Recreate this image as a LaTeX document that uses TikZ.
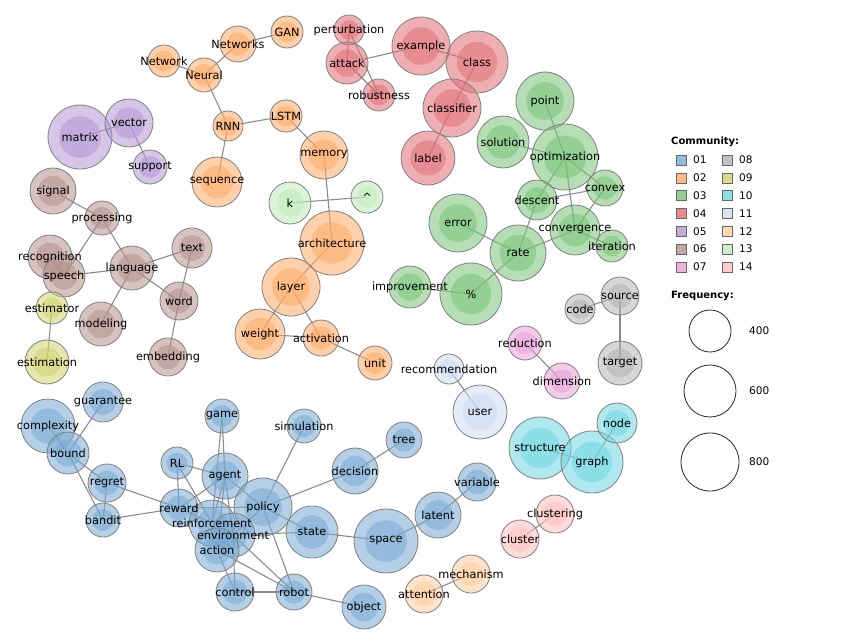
\documentclass[tikz,border=0pt]{standalone}
\usepackage{fontspec}
\setmainfont{DejaVu Sans}
\pgfdeclarelayer{background}
\pgfdeclarelayer{foreground}
\pgfsetlayers{background,main,foreground}

% community colours
\definecolor{c01}{RGB}{120,170,210}
\definecolor{c02}{RGB}{255,170,100}
\definecolor{c03}{RGB}{120,195,120}
\definecolor{c04}{RGB}{225,110,115}
\definecolor{c05}{RGB}{180,150,210}
\definecolor{c06}{RGB}{180,145,140}
\definecolor{c07}{RGB}{232,160,215}
\definecolor{c08}{RGB}{180,180,180}
\definecolor{c09}{RGB}{210,210,110}
\definecolor{c10}{RGB}{110,215,225}
\definecolor{c11}{RGB}{205,220,240}
\definecolor{c12}{RGB}{255,205,160}
\definecolor{c13}{RGB}{190,235,185}
\definecolor{c14}{RGB}{255,190,190}

\begin{document}
\begin{tikzpicture}[x=1pt, y=-1pt,
  ring/.style={circle, draw=black!50, line width=0.8pt, fill opacity=0.55, inner sep=0pt},
  core/.style={fill opacity=0.55},
  edge/.style={draw=black!45, line width=1.1pt},
  lbl/.style={font=\fontsize{11.3}{13}\selectfont, inner sep=0pt},
  legend/.style={font=\fontsize{10.5}{12}\selectfont, inner sep=0pt, anchor=west},
  swatch/.style={draw=black!60, line width=0.6pt, minimum size=10pt, inner sep=0pt, fill opacity=0.8}]
\useasboundingbox (0,0) rectangle (853,640);

% terms: name/x/y/radius/community/text
\foreach \n/\x/\y/\r/\c/\t in {
  GAN/287/32/16/c02/GAN, Networks/238/44/18/c02/Networks, Network/164/61/16/c02/Network,
  Neural/204/75/17/c02/Neural, RNN/228/126/15/c02/RNN, LSTM/286/116/16/c02/LSTM,
  sequence/217/182/25/c02/sequence, memory/324/155/24/c02/memory,
  architecture/332/243/32/c02/architecture, layer/291/287/29/c02/layer,
  weight/260/334/25/c02/weight, activation/321/338/18/c02/activation, unit/375/363/17/c02/unit,
  k/290/203/21/c13/k, hat/367/197/16/c13/\textasciicircum,
  matrix/80/137/32/c05/matrix, vector/129/123/24/c05/vector, support/150/167/17/c05/support,
  signal/53/191/23/c06/signal, processing/102/218/17/c06/processing,
  recognition/50/257/22/c06/recognition, speech/64/276/21/c06/speech,
  language/132/268/22/c06/language, text/192/248/20/c06/text, word/179/301/19/c06/word,
  modeling/101/324/22/c06/modeling, embedding/168/357/19/c06/embedding,
  estimator/52/308/16/c09/estimator, estimation/47/362/22/c09/estimation,
  perturbation/349/30/15/c04/perturbation, attack/347/63/21/c04/attack,
  robustness/379/95/16/c04/robustness, example/421/46/29/c04/example,
  class/477/62/31/c04/class, classifier/452/108/29/c04/classifier, label/428/158/27/c04/label,
  point/545/101/29/c03/point, solution/503/142/26/c03/solution,
  optimization/565/157/33/c03/optimization, convex/605/188/18/c03/convex,
  descent/537/200/20/c03/descent, convergence/575/230/25/c03/convergence,
  iteration/612/246/16/c03/iteration, error/458/223/29/c03/error, rate/518/253/28/c03/rate,
  improvement/410/287/21/c03/improvement, pct/471/294/31/c03/\%,
  code/580/309/15/c08/code, source/620/296/19/c08/source, target/620/363/22/c08/target,
  reduction/525/343/17/c07/reduction, dimension/562/381/18/c07/dimension,
  recommendation/449/369/15/c11/recommendation, user/480/412/27/c11/user,
  structure/540/448/31/c10/structure, graph/592/462/31/c10/graph, node/617/423/20/c10/node,
  clustering/555/514/19/c14/clustering, cluster/520/539/19/c14/cluster,
  mechanism/471/574/19/c12/mechanism, attention/424/594/19/c12/attention,
  guarantee/103/402/20/c01/guarantee, complexity/48/426/27/c01/complexity,
  bound/68/453/21/c01/bound, regret/107/483/19/c01/regret, bandit/103/520/17/c01/bandit,
  game/222/416/17/c01/game, RL/177/463/16/c01/RL, agent/225/476/23/c01/agent,
  reward/179/508/19/c01/reward, policy/263/507/29/c01/policy,
  simulation/304/426/17/c01/simulation, tree/404/440/18/c01/tree, decision/355/471/23/c01/decision,
  reinforcement/212/523/23/c01/reinforcement, environment/233/535/22/c01/environment,
  action/217/550/22/c01/action, control/235/592/19/c01/control, robot/294/592/18/c01/robot,
  object/364/607/22/c01/object, state/312/532/26/c01/state, space/386/541/32/c01/space,
  latent/438/515/23/c01/latent, variable/477/482/19/c01/variable}
{
  \node[ring, fill=\c, minimum size={2pt*\r}] (\n) at (\x,\y) {};
  \fill[\c, core] (\n.center) circle ({0.65pt*\r});
  \begin{pgfonlayer}{foreground}
    \node[lbl] at (\n.center) {\t};
  \end{pgfonlayer}
}

% co-occurrence links
\begin{pgfonlayer}{background}
\foreach \a/\b in {
  GAN/Networks, Networks/Neural, Network/Neural, Neural/RNN, RNN/LSTM, RNN/sequence,
  LSTM/memory, memory/architecture, architecture/layer, layer/weight, layer/activation,
  weight/activation, activation/unit, k/hat,
  matrix/vector, vector/support,
  signal/processing, processing/language, processing/speech, recognition/speech,
  speech/language, language/text, language/word, language/modeling, text/word, word/embedding,
  estimator/estimation,
  perturbation/attack, perturbation/robustness, attack/robustness, attack/example,
  example/class, class/classifier, classifier/label,
  point/optimization, solution/optimization, optimization/descent, optimization/convergence,
  optimization/convex, descent/convex, descent/rate, convex/convergence,
  convergence/iteration, convergence/rate, error/rate, rate/pct, improvement/pct,
  code/source, source/target, reduction/dimension, recommendation/user,
  structure/graph, graph/node, cluster/clustering, attention/mechanism,
  guarantee/bound, complexity/bound, bound/regret, bound/bandit, regret/bandit,
  regret/reward, bandit/reward, RL/agent, RL/reward, RL/reinforcement,
  game/agent, game/reinforcement, agent/policy, agent/reinforcement, agent/environment,
  agent/action, agent/reward, reward/policy, reward/reinforcement,
  policy/simulation, policy/decision, policy/state, policy/robot, policy/action,
  environment/state, environment/robot, environment/control, action/robot, action/control,
  control/robot, robot/object, state/space, space/latent, latent/variable, decision/tree}
  \draw[edge] (\a.center) -- (\b.center);
\end{pgfonlayer}

% legend
\node[legend, font=\fontsize{10}{12}\selectfont\bfseries] (community) at (671,142) {Community:};
\foreach \i/\ca/\la/\cb/\lb in {0/c01/01/c08/08, 1/c02/02/c09/09, 2/c03/03/c10/10,
    3/c04/04/c11/11, 4/c05/05/c12/12, 5/c06/06/c13/13, 6/c07/07/c14/14}
{
  \node[swatch, fill=\ca] (sw\la) at (681,160+17.8*\i) {};
  \node[legend] at (693,160+17.8*\i) {\la};
  \node[swatch, fill=\cb] (sw\lb) at (727,160+17.8*\i) {};
  \node[legend] at (739,160+17.8*\i) {\lb};
}
\node[legend, font=\fontsize{10}{12}\selectfont\bfseries] (frequency) at (671,296) {Frequency:};
\foreach \v/\y/\r in {400/331/21, 600/391/26, 800/462/29}
{
  \node[circle, draw=black!85, line width=0.8pt, minimum size={2pt*\r}, inner sep=0pt] (f\v) at (710,\y) {};
  \node[legend] at (749,\y) {\v};
}
\end{tikzpicture}
\end{document}
